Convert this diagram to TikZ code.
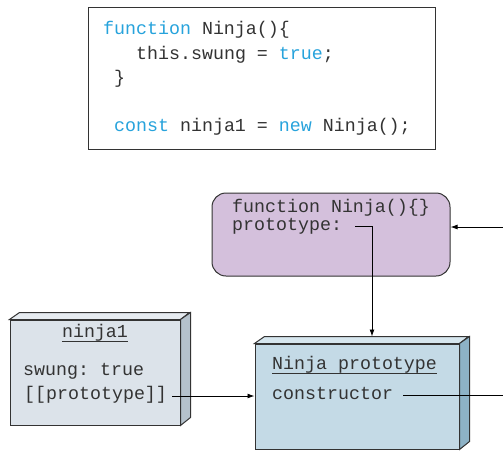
\documentclass[tikz,border=0pt]{standalone}
\usepackage{fontspec}
\setmonofont{Liberation Mono}
\usetikzlibrary{arrows.meta}

\definecolor{kwblue}{HTML}{27A3DC}
\definecolor{inkgray}{HTML}{333333}
\definecolor{fnfill}{HTML}{D4C0DC}
\definecolor{objfill}{HTML}{DCE3EA}
\definecolor{objtop}{HTML}{E6EBF0}
\definecolor{objside}{HTML}{B5C2CC}
\definecolor{protofill}{HTML}{C4DAE6}
\definecolor{prototop}{HTML}{D6E6EE}
\definecolor{protoside}{HTML}{8DB2C6}

\tikzset{
	code/.style={font=\ttfamily\fontsize{18.3}{22}\selectfont, text=inkgray,
		anchor=base west, inner sep=0pt},
	frame/.style={draw=inkgray, line width=1pt},
	link/.style={draw=black, line width=0.9pt},
	tip/.style={-{Latex[length=7pt,width=5pt]}},
}

\begin{document}
\begin{tikzpicture}[x=1pt, y=-1pt]
		\useasboundingbox (0,0) rectangle (503,450);
		% code listing
		\node[frame, fill=white, minimum width=347pt, minimum height=142pt] (listing) at (261.5,78) {};
		\node[code] (c1) at (103,34) {\textcolor{kwblue}{function} Ninja()\{};
		\node[code] (c2) at (136,59) {this.swung = \textcolor{kwblue}{true};};
		\node[code] (c3) at (114,83) {\}};
		\node[code] (c4) at (114,131) {\textcolor{kwblue}{const} ninja1 = \textcolor{kwblue}{new} Ninja();};

		% function object
		\node[frame, fill=fnfill, rounded corners=14pt, minimum width=238pt, minimum height=83pt] (fn) at (331,234.5) {};
		\node[code] (fnname) at (232,212) {function Ninja()\{\}};
		\node[code] (fnproto) at (232,230) {prototype:};

		% ninja1 object
		\node[frame, fill=objfill, minimum width=170pt, minimum height=105pt] (nj) at (95,372.5) {};
		\filldraw[frame, fill=objtop] (nj.north west) -- ++(10,-7) -- ++(170,0) -- (nj.north east) -- cycle;
		\filldraw[frame, fill=objside] (nj.north east) -- ++(10,-7) -- ++(0,105) -- (nj.south east) -- cycle;
		\node[code, anchor=base] (njname) at (95,337) {ninja1};
		\draw[inkgray, line width=0.8pt] ([yshift=-4pt]njname.base west) -- ([yshift=-4pt]njname.base east);
		\node[code] (njswung) at (23,375) {swung: true};
		\node[code] (njproto) at (24,399) {[[prototype]]};

		% Ninja prototype object
		\node[frame, fill=protofill, minimum width=204pt, minimum height=105pt] (np) at (357,396.5) {};
		\filldraw[frame, fill=prototop] (np.north west) -- ++(10,-7) -- ++(204,0) -- (np.north east) -- cycle;
		\filldraw[frame, fill=protoside] (np.north east) -- ++(10,-7) -- ++(0,105) -- (np.south east) -- cycle;
		\node[code] (npname) at (272,369) {Ninja prototype};
		\draw[inkgray, line width=0.8pt] ([yshift=-4pt]npname.base west) -- ([yshift=-4pt]npname.base east);
		\node[code] (ctor) at (272,399) {constructor};

		% links
		\coordinate (pbend) at (372,226);
		\coordinate (npback) at ([yshift=7pt]np.north);
		\coordinate (rimlow) at (503,395);
		\coordinate (rimhigh) at (503,227);
		\draw[link, tip] ([xshift=13pt, yshift=4pt]fnproto.base east) -- (pbend) -- (pbend |- npback);
		\draw[link, tip] ([xshift=5pt, yshift=3pt]njproto.base east) -- ([yshift=3pt]njproto.base east -| np.west);
		\draw[link] ([xshift=10pt, yshift=4pt]ctor.base east) -- (rimlow);
		\draw[link, tip] (rimhigh) -- (rimhigh -| fn.east);
	\end{tikzpicture}
\end{document}
